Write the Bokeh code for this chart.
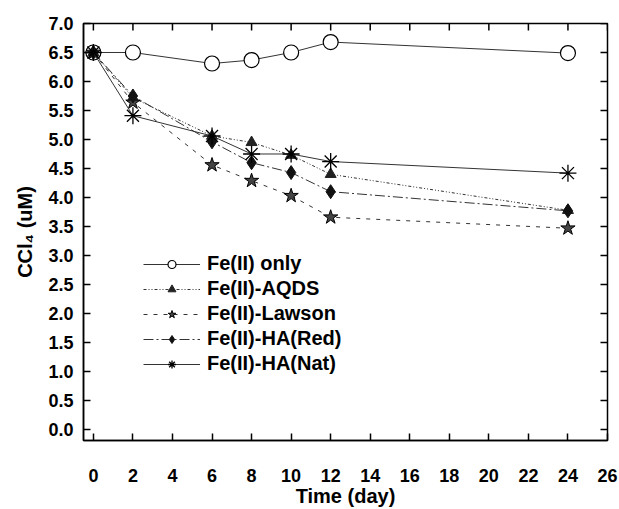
import math
from bokeh.plotting import figure
from bokeh.models import Range1d, FixedTicker, PrintfTickFormatter, Legend, LegendItem
from bokeh.embed import file_html
from bokeh.resources import INLINE

# ---- data ----
days = [0, 2, 6, 8, 10, 12, 24]
fe_only = [6.50, 6.50, 6.31, 6.37, 6.50, 6.68, 6.49]
fe_aqds = [6.50, 5.72, 5.06, 4.95, 4.73, 4.40, 3.78]
fe_lawson = [6.50, 5.64, 4.56, 4.29, 4.03, 3.66, 3.47]
fe_ha_red = [6.50, 5.75, 4.96, 4.60, 4.43, 4.10, 3.77]
fe_ha_nat = [6.50, 5.41, 5.06, 4.75, 4.75, 4.62, 4.42]
labels = ["Fe(II) only", "Fe(II)-AQDS", "Fe(II)-Lawson", "Fe(II)-HA(Red)", "Fe(II)-HA(Nat)"]
x_ticks = list(range(0, 27, 2))
y_ticks = [i * 0.5 for i in range(15)]
x_min, x_max = -0.5, 26
y_min, y_max = -0.19, 7.0

FONT = "Liberation Sans"

p = figure(width=619, height=509, output_backend="svg", toolbar_location=None,
           x_range=Range1d(x_min, x_max), y_range=Range1d(y_min, y_max),
           min_border_left=83, min_border_right=12, min_border_top=23, min_border_bottom=68)
p.grid.visible = False
p.outline_line_color = "black"
p.outline_line_width = 1.5
p.background_fill_color = "white"
p.border_fill_color = "white"

# inward ticks on the top and right frame edges (clipped to the frame)
p.scatter(x_ticks, [y_max] * len(x_ticks), marker="dash", angle=math.pi / 2,
          size=14, line_color="black", line_width=1.5)
p.scatter([x_max] * len(y_ticks), y_ticks, marker="dash", angle=0,
          size=14, line_color="black", line_width=1.5)

series = [
    (fe_only, "solid", dict(marker="circle", size=15, fill_color="white", line_color="black", line_width=1.2)),
    (fe_aqds, "3 2 1 2 1 2", dict(marker="triangle", size=11, fill_color="#222222", line_color="#222222", line_width=1)),
    (fe_lawson, "4 6", dict(marker="star", size=15, fill_color="#444444", line_color="black", line_width=1)),
    (fe_ha_red, "10 3 2 3", dict(marker="diamond", size=14, fill_color="#111111", line_color="#111111", line_width=1)),
    (fe_ha_nat, "solid", dict(marker="asterisk", size=17, line_color="black", line_width=1.3)),
]

items = []
for (vals, dash, mk), lab in zip(series, labels):
    ln = p.line(days, vals, line_color="#333333", line_width=1, line_dash=dash)
    sc = p.scatter(days, vals, **mk)
    items.append(LegendItem(label=lab, renderers=[ln, sc]))

legend = Legend(items=items, location=(60, 65), margin=0, padding=0,
                background_fill_alpha=0, border_line_alpha=0,
                glyph_width=57, glyph_height=20, label_height=20, spacing=2,
                label_standoff=7, label_text_font=FONT, label_text_font_style="bold",
                label_text_font_size="20px", label_text_color="black")
p.add_layout(legend, "center")

for ax in (p.xaxis[0], p.yaxis[0]):
    ax.major_tick_in = 7
    ax.major_tick_out = 0
    ax.minor_tick_in = 0
    ax.minor_tick_out = 0
    ax.axis_line_width = 1.5
    ax.major_tick_line_width = 1.5
    ax.axis_line_color = "black"
    ax.major_label_text_font = FONT
    ax.major_label_text_font_style = "bold"
    ax.major_label_text_font_size = "18px"
    ax.major_label_text_color = "black"
    ax.axis_label_text_font = FONT
    ax.axis_label_text_font_style = "bold"
    ax.axis_label_text_font_size = "20px"
    ax.axis_label_text_color = "black"

p.xaxis[0].ticker = FixedTicker(ticks=x_ticks)
p.yaxis[0].ticker = FixedTicker(ticks=y_ticks)
p.yaxis[0].formatter = PrintfTickFormatter(format="%.1f")
p.xaxis[0].axis_label = "Time (day)"
p.yaxis[0].axis_label = "CCl\u2084 (uM)"
p.xaxis[0].major_label_standoff = 28
p.xaxis[0].axis_label_standoff = 0
p.yaxis[0].major_label_standoff = 10
p.yaxis[0].axis_label_standoff = 9

open("out.html", "w").write(file_html(p, INLINE))
